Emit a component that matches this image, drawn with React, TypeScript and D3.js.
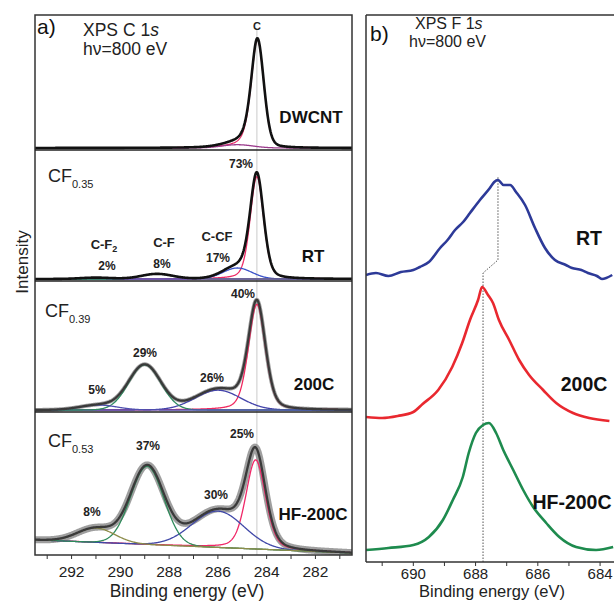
import * as d3 from 'd3';

// ---- panel a: C 1s fit components (center eV, height in peak units, FWHM eV, lorentz mix [low BE side, high BE side])
const ticksA = d3.range(281, 294);
const ticksB = d3.range(684, 692);

const peaksDWCNT = [
  { id: 'C', center: 284.38, height: 0.985, fwhm: 0.62, mix: [0.2, 0.5] },
  { id: 'shake', center: 285.2, height: 0.03, fwhm: 1.5, mix: [0, 0] },
];
const peaksRT = [
  { id: 'C', center: 284.4, height: 0.93, fwhm: 0.65, mix: [0.3, 0.3] },
  { id: 'C-CF', center: 285.2, height: 0.1, fwhm: 1.4, mix: [0, 0] },
  { id: 'C-F', center: 288.5, height: 0.045, fwhm: 1.5, mix: [0, 0] },
  { id: 'C-F2', center: 291.0, height: 0.012, fwhm: 1.5, mix: [0, 0] },
];
const peaks200C = [
  { id: 'C', center: 284.4, height: 0.96, fwhm: 0.82, mix: [0.3, 0.3] },
  { id: 'C-CF', center: 286.0, height: 0.18, fwhm: 2.2, mix: [0, 0] },
  { id: 'C-F', center: 289.0, height: 0.41, fwhm: 1.55, mix: [0, 0] },
  { id: 'C-F2', center: 290.9, height: 0.045, fwhm: 1.8, mix: [0, 0] },
];
const peaksHF = [
  { id: 'C', center: 284.45, height: 0.81, fwhm: 0.95, mix: [0.3, 0.3] },
  { id: 'C-CF', center: 286.0, height: 0.33, fwhm: 2.5, mix: [0, 0] },
  { id: 'C-F', center: 288.9, height: 0.71, fwhm: 1.6, mix: [0, 0] },
  { id: 'C-F2', center: 291.0, height: 0.13, fwhm: 1.8, mix: [0, 0] },
];
// linear background for HF-200C: value at 293.5 eV and at 280.5 eV
const backgroundHF = [0.12, 0.0];

// ---- panel b: F 1s spectra (eV, stacked intensity)
const rtEnergy = [691.52, 691.2, 690.8, 690.4, 690.0, 689.79, 689.5, 689.14, 688.9, 688.66, 688.4, 688.18, 687.86, 687.54, 687.4, 687.28, 687.1, 686.89, 686.7, 686.41, 686.09, 685.77, 685.45, 685.1, 684.9, 684.6, 684.39, 684.1, 683.94, 683.61];
const rtIntensity = [2.87, 2.89, 2.86, 2.9, 2.92, 2.95, 3.0, 3.14, 3.22, 3.32, 3.4, 3.49, 3.62, 3.74, 3.8, 3.82, 3.77, 3.77, 3.7, 3.57, 3.34, 3.14, 3.02, 2.97, 2.94, 2.92, 2.89, 2.86, 2.83, 2.87];
const c200Energy = [691.52, 691.0, 690.5, 690.0, 689.7, 689.2, 688.75, 688.43, 688.18, 687.92, 687.79, 687.6, 687.44, 687.25, 686.92, 686.6, 686.28, 685.83, 685.41, 684.87, 684.35, 683.7];
const c200Intensity = [1.45, 1.44, 1.46, 1.5, 1.58, 1.72, 1.95, 2.19, 2.42, 2.62, 2.75, 2.67, 2.59, 2.42, 2.22, 2.02, 1.87, 1.72, 1.59, 1.49, 1.44, 1.41];
const hfEnergy = [691.52, 690.8, 690.0, 689.5, 689.05, 688.73, 688.41, 688.22, 687.99, 687.76, 687.57, 687.34, 687.11, 686.79, 686.47, 686.15, 685.73, 685.31, 684.77, 684.13, 683.58];
const hfIntensity = [0.12, 0.14, 0.17, 0.25, 0.42, 0.62, 0.85, 1.09, 1.29, 1.37, 1.39, 1.29, 1.12, 0.92, 0.72, 0.55, 0.39, 0.25, 0.15, 0.12, 0.15];
// peak position guide: [200C/HF-200C peak, RT peak] and its levels
const guideEnergy = [687.76, 687.28];
const guideLevel = [0, 2.89, 3.02, 3.85];

const FONT = 'Liberation Sans, Arial, sans-serif';

const compColors: Record<string, Record<string, string>> = {
  DWCNT: { C: '#e8306a', shake: '#9b3b8c' },
  RT: { C: '#ee2a66', 'C-CF': '#3a52c8', 'C-F': '#2c8a55', 'C-F2': '#7050a0' },
  '200C': { C: '#f0285f', 'C-CF': '#4444aa', 'C-F': '#2f8a60', 'C-F2': '#5050b0' },
  'HF-200C': { C: '#f02868', 'C-CF': '#4048a8', 'C-F': '#2e8a5a', 'C-F2': '#8c8c4a' },
};

type Peak = { id: string; center: number; height: number; fwhm: number; mix: number[] };

function voigt(e: number, p: Peak) {
  const d = e - p.center;
  const x = d / p.fwhm;
  const m = d > 0 ? p.mix[1] : p.mix[0];
  const g = Math.exp(-4 * Math.LN2 * x * x);
  const l = 1 / (1 + 4 * x * x);
  return p.height * (m * l + (1 - m) * g);
}

export default function App() {
  const xA = d3.scaleLinear().domain([293.5, 280.5]).range([35, 352]);
  const xB = d3.scaleLinear().domain([691.52, 683.36]).range([366, 620]);
  const yB = d3.scaleLinear().domain([0, 5.47]).range([562, 15]);

  const bands = [
    { name: 'DWCNT', top: 15, bottom: 150, peaks: peaksDWCNT, bg: null as number[] | null },
    { name: 'RT', top: 150, bottom: 281, peaks: peaksRT, bg: null },
    { name: '200C', top: 281, bottom: 412, peaks: peaks200C, bg: null },
    { name: 'HF-200C', top: 412, bottom: 555, peaks: peaksHF, bg: backgroundHF },
  ];

  const grid = d3.range(280.5, 293.5001, 0.02);

  const bandPaths = bands.map((b, i) => {
    const y = d3.scaleLinear().domain([0, 1]).range([b.bottom - 2, b.bottom - 112]);
    const bgAt = (e: number) =>
      b.bg ? b.bg[1] + ((b.bg[0] - b.bg[1]) * (e - 280.5)) / 13 : 0;
    const mk = (f: (e: number) => number) =>
      d3.line<number>().x((e) => xA(e)).y((e) => y(f(e)))(grid) as string;
    const comps = b.peaks.map((p) => ({
      id: p.id,
      d: mk((e) => bgAt(e) + voigt(e, p)),
    }));
    const total = mk((e) => bgAt(e) + d3.sum(b.peaks, (p) => voigt(e, p)));
    const bgPath = b.bg ? mk(bgAt) : null;
    return { ...b, comps, total, bgPath, idx: i };
  });

  const spectraF = [
    { name: 'RT', energy: rtEnergy, intensity: rtIntensity, color: '#2d3a98' },
    { name: '200C', energy: c200Energy, intensity: c200Intensity, color: '#e9282f' },
    { name: 'HF-200C', energy: hfEnergy, intensity: hfIntensity, color: '#1e8b4e' },
  ];
  const lineB = d3
    .line<[number, number]>()
    .x((d) => xB(d[0]))
    .y((d) => yB(d[1]))
    .curve(d3.curveMonotoneX);

  const guidePts: [number, number][] = [
    [guideEnergy[0], guideLevel[0]],
    [guideEnergy[0], guideLevel[1]],
    [guideEnergy[1], guideLevel[2]],
    [guideEnergy[1], guideLevel[3]],
  ];

  const pct = { fontFamily: FONT, fontSize: 12, fontWeight: 700, textAnchor: 'middle' as const, fill: '#222' };
  const nm = { fontFamily: FONT, fontSize: 13, fontWeight: 700, textAnchor: 'middle' as const, fill: '#222' };
  const sampleA = { fontFamily: FONT, fontSize: 17, fontWeight: 700, textAnchor: 'middle' as const, fill: '#111' };
  const sampleB = { fontFamily: FONT, fontSize: 19.5, fontWeight: 700, textAnchor: 'middle' as const, fill: '#111' };

  const cf = (x: number, y: number, sub: string) => (
    <text x={x} y={y} fontFamily={FONT} fontSize={18} fill="#222">
      CF
      <tspan fontSize={11} dy={6}>
        {sub}
      </tspan>
    </text>
  );

  return (
    <div style={{ position: 'fixed', left: 0, top: 0 }}>
      <svg width={614} height={601} style={{ display: 'block', background: '#fff' }}>
        <defs>
          <clipPath id="clipA">
            <rect x={35} y={15} width={317} height={540} />
          </clipPath>
          <clipPath id="clipB">
            <rect x={366} y={15} width={260} height={547} />
          </clipPath>
        </defs>

        {/* ---------- panel a ---------- */}
        <g clipPath="url(#clipA)">
          <line x1={xA(284.4)} x2={xA(284.4)} y1={30} y2={555} stroke="#c4c4c4" strokeWidth={0.9} />
          {bandPaths.map((b) => (
            <g key={b.name}>
              {b.bgPath && <path d={b.bgPath} fill="none" stroke="#8c8c74" strokeWidth={1.1} />}
              {b.idx >= 2 && (
                <path
                  d={b.total}
                  fill="none"
                  stroke="#8e8e8e"
                  strokeWidth={b.idx === 3 ? 7 : 4}
                  strokeOpacity={0.85}
                  strokeLinejoin="round"
                />
              )}
              {b.comps.map((c) => (
                <path key={c.id} d={c.d} fill="none" stroke={compColors[b.name][c.id]} strokeWidth={1.3} />
              ))}
              <path
                d={b.total}
                fill="none"
                stroke={b.idx >= 2 ? '#3a3a3a' : '#111'}
                strokeWidth={b.idx >= 2 ? 2.3 : 2.6}
                strokeLinejoin="round"
              />
            </g>
          ))}
        </g>
        <rect x={35} y={15} width={317} height={540} fill="none" stroke="#333" strokeWidth={1.5} />
        {bands.slice(1).map((b) => (
          <line key={b.name} x1={35} x2={352} y1={b.top} y2={b.top} stroke="#222" strokeWidth={1.6} />
        ))}
        {ticksA.map((t) => (
          <line key={t} x1={xA(t)} x2={xA(t)} y1={555} y2={559} stroke="#333" strokeWidth={1} />
        ))}
        {ticksA
          .filter((t) => t % 2 === 0)
          .map((t) => (
            <text key={t} x={xA(t)} y={577} textAnchor="middle" fontFamily={FONT} fontSize={15.5} fill="#222">
              {t}
            </text>
          ))}
        <text x={187} y={596.5} textAnchor="middle" fontFamily={FONT} fontSize={17.5} fill="#222">
          Binding energy (eV)
        </text>
        <text
          transform="translate(28,262) rotate(-90)"
          textAnchor="middle"
          fontFamily={FONT}
          fontSize={17}
          fill="#222"
        >
          Intensity
        </text>

        <text x={37} y={34} fontFamily={FONT} fontSize={21} fill="#111">a)</text>
        <text x={83} y={36} fontFamily={FONT} fontSize={17.5} fill="#222">
          XPS C 1<tspan fontStyle="italic">s</tspan>
        </text>
        <text x={83} y={55} fontFamily={FONT} fontSize={17.5} fill="#222">hν=800 eV</text>
        <text x={257} y={30} {...nm} fontSize={11}>C</text>
        <text x={311} y={123} {...sampleA}>DWCNT</text>

        {cf(48, 182, '0.35')}
        <text x={104} y={249} {...nm}>
          C-F<tspan fontSize={9} dy={3}>2</tspan>
        </text>
        <text x={107} y={270} {...pct}>2%</text>
        <text x={164} y={247} {...nm}>C-F</text>
        <text x={162} y={268} {...pct}>8%</text>
        <text x={217} y={241} {...nm}>C-CF</text>
        <text x={218} y={262} {...pct}>17%</text>
        <text x={241} y={168} {...pct}>73%</text>
        <text x={313} y={262} {...sampleA}>RT</text>

        {cf(45, 317, '0.39')}
        <text x={97} y={394} {...pct}>5%</text>
        <text x={145} y={357} {...pct}>29%</text>
        <text x={212} y={382} {...pct}>26%</text>
        <text x={243} y={298} {...pct}>40%</text>
        <text x={314} y={390} {...sampleA}>200C</text>

        {cf(48, 447, '0.53')}
        <text x={92} y={516} {...pct}>8%</text>
        <text x={148} y={450} {...pct}>37%</text>
        <text x={216} y={499} {...pct}>30%</text>
        <text x={242} y={438} {...pct}>25%</text>
        <text x={313} y={520} {...sampleA}>HF-200C</text>

        {/* ---------- panel b ---------- */}
        <g clipPath="url(#clipB)">
          <path
            d={d3.line<[number, number]>().x((d) => xB(d[0])).y((d) => yB(d[1]))(guidePts) as string}
            fill="none"
            stroke="#555"
            strokeWidth={1}
            strokeDasharray="1.5,1.5"
          />
          {spectraF.map((s) => (
            <path
              key={s.name}
              d={lineB(s.energy.map((e, i) => [e, s.intensity[i]] as [number, number])) as string}
              fill="none"
              stroke={s.color}
              strokeWidth={2.6}
              strokeLinejoin="round"
            />
          ))}
        </g>
        <line x1={366} x2={366} y1={15} y2={562} stroke="#333" strokeWidth={1.5} />
        <line x1={366} x2={614} y1={15} y2={15} stroke="#333" strokeWidth={1.5} />
        <line x1={366} x2={614} y1={562} y2={562} stroke="#333" strokeWidth={1.5} />
        {ticksB.map((t) => (
          <line key={t} x1={xB(t)} x2={xB(t)} y1={562} y2={566} stroke="#333" strokeWidth={1} />
        ))}
        {ticksB
          .filter((t) => t % 2 === 0)
          .map((t) => (
            <text key={t} x={xB(t)} y={578.5} textAnchor="middle" fontFamily={FONT} fontSize={15} fill="#222">
              {t}
            </text>
          ))}
        <text x={492} y={596.5} textAnchor="middle" fontFamily={FONT} fontSize={16.5} fill="#222">
          Binding energy (eV)
        </text>
        <text x={370} y={41} fontFamily={FONT} fontSize={21} fill="#111">b)</text>
        <text x={415} y={29} fontFamily={FONT} fontSize={16} fill="#222">
          XPS F 1<tspan fontStyle="italic">s</tspan>
        </text>
        <text x={409} y={47} fontFamily={FONT} fontSize={16} fill="#222">hν=800 eV</text>
        <text x={589} y={245} {...sampleB}>RT</text>
        <text x={584} y={391} {...sampleB}>200C</text>
        <text x={572} y={509} {...sampleB}>HF-200C</text>
      </svg>
    </div>
  );
}
